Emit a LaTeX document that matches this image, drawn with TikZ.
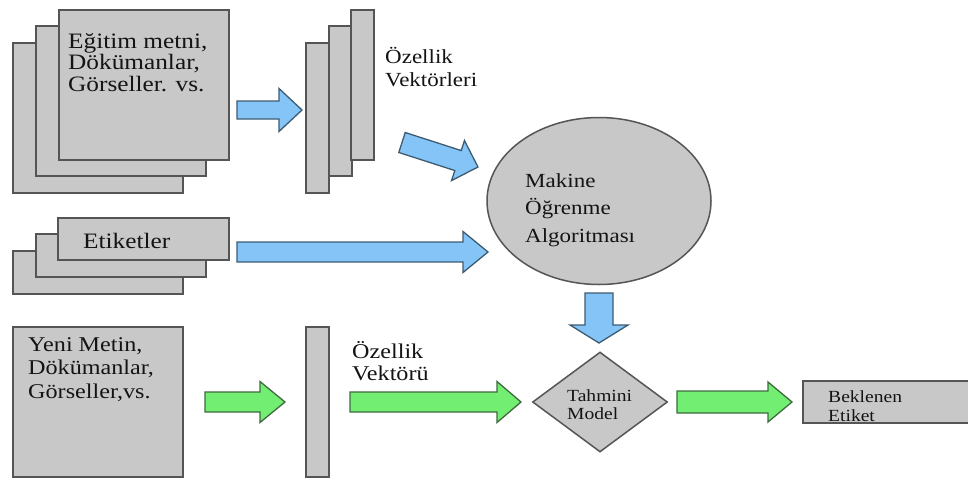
\documentclass[tikz,border=0pt]{standalone}
\usepackage{fontspec}
\setmainfont{Liberation Serif}
\newfontfamily\wideserif[FakeStretch=1.15]{Liberation Serif}
\usetikzlibrary{calc,shapes.geometric}
\definecolor{boxgray}{HTML}{C8C8C8}
\definecolor{boxedge}{HTML}{555555}
\definecolor{arrblue}{HTML}{84C4F6}
\definecolor{blueedge}{HTML}{3D5C72}
\definecolor{arrgreen}{HTML}{72EE72}
\definecolor{greenedge}{HTML}{3F6B3F}
\definecolor{txt}{HTML}{141414}
% block arrow: style, start, tip, shaft half width, head half width, head length
\newcommand\blockarrow[6]{%
  \coordinate (ba-c) at ($(#3)!#6!(#2)$);
  \filldraw[#1] ($(#2)!#4!90:(#3)$) -- ($(ba-c)!#4!90:(#3)$) -- ($(ba-c)!#5!90:(#3)$)
    -- (#3) -- ($(ba-c)!#5!-90:(#3)$) -- ($(ba-c)!#4!-90:(#3)$) -- ($(#2)!#4!-90:(#3)$) -- cycle;}
\begin{document}
\begin{tikzpicture}[x=1pt,y=-1pt,
  box/.style={draw=boxedge, fill=boxgray, line width=1.5pt, rectangle, inner sep=0pt, anchor=north west},
  lbl/.style={anchor=north west, inner sep=0pt, align=left, text=txt},
  bluearrow/.style={draw=blueedge, fill=arrblue, line width=1.3pt},
  greenarrow/.style={draw=greenedge, fill=arrgreen, line width=1.3pt}]
\useasboundingbox (0,0) rectangle (968,477);
\clip (0,0) rectangle (968,477);
\fill[white] (0,0) rectangle (968,477);

% training documents
\node[box, minimum width=170pt, minimum height=150pt] (doc3) at (12,42) {};
\node[box, minimum width=170pt, minimum height=150pt] (doc2) at (35,25) {};
\node[box, minimum width=170pt, minimum height=150pt] (doc1) at (58,9) {};
\node[lbl, font=\wideserif\fontsize{22}{21.5}\selectfont] (doctext) at (68,33) {Eğitim metni,\\Dökümanlar,\\Görseller. vs.};

% feature vectors
\node[box, minimum width=23pt, minimum height=150pt] (fv3) at (305,42) {};
\node[box, minimum width=23pt, minimum height=150pt] (fv2) at (328,25) {};
\node[box, minimum width=23pt, minimum height=150pt] (fv1) at (350,9) {};
\node[lbl, font=\wideserif\fontsize{20}{23}\selectfont] (fvtext) at (385,47) {Özellik\\Vektörleri};

% labels
\node[box, minimum width=170pt, minimum height=43pt] (lab3) at (12,250) {};
\node[box, minimum width=170pt, minimum height=43pt] (lab2) at (35,233) {};
\node[box, minimum width=171pt, minimum height=42pt] (lab1) at (57,217) {};
\node[anchor=base west, inner sep=0pt, text=txt, font=\wideserif\fontsize{22}{22}\selectfont] (labtext) at (83,248) {Etiketler};

% machine learning algorithm
\node[ellipse, draw=boxedge, fill=boxgray, line width=1.5pt, minimum width=224pt, minimum height=167pt, inner sep=0pt] (ml) at (599,201) {};
\node[lbl, font=\wideserif\fontsize{20}{27.5}\selectfont] (mltext) at (525,173) {Makine\\Öğrenme\\Algoritması};

% new data
\node[box, minimum width=170pt, minimum height=150pt] (newdoc) at (12,326) {};
\node[lbl, font=\wideserif\fontsize{21}{23.5}\selectfont] (newtext) at (28,337) {Yeni Metin,\\Dökümanlar,\\Görseller,vs.};
\node[box, minimum width=23pt, minimum height=150pt] (fvnew) at (305,326) {};
\node[lbl, font=\wideserif\fontsize{21}{22}\selectfont] (fvnewtext) at (352,341) {Özellik\\Vektörü};

% predictive model
\node[diamond, draw=boxedge, fill=boxgray, line width=1.5pt, minimum width=135pt, minimum height=100pt, inner sep=0pt] (model) at (600,402) {};
\node[lbl, font=\wideserif\fontsize{17}{18}\selectfont] (modeltext) at (567,389) {Tahmini\\Model};

% expected label
\node[box, minimum width=180pt, minimum height=42pt] (out) at (802,380) {};
\node[lbl, font=\wideserif\fontsize{17}{19}\selectfont] (outtext) at (828,390) {Beklenen\\Etiket};

% arrows
\coordinate (a1s) at (237,110); \coordinate (a1e) at (302,110);
\coordinate (a2s) at (402,142.5); \coordinate (a2e) at (478,167);
\coordinate (a3s) at (237,252); \coordinate (a3e) at (488,252);
\coordinate (a4s) at (599,293); \coordinate (a4e) at (599,343);
\coordinate (g1s) at (205,402); \coordinate (g1e) at (285,402);
\coordinate (g2s) at (350,402); \coordinate (g2e) at (521,402);
\coordinate (g3s) at (677,402); \coordinate (g3e) at (792,402);
\blockarrow{bluearrow}{a1s}{a1e}{9pt}{21.5pt}{23pt}
\blockarrow{bluearrow}{a2s}{a2e}{10.5pt}{21pt}{21pt}
\blockarrow{bluearrow}{a3s}{a3e}{10pt}{20.5pt}{25pt}
\blockarrow{bluearrow}{a4s}{a4e}{14pt}{29pt}{18pt}
\blockarrow{greenarrow}{g1s}{g1e}{10pt}{20.5pt}{25pt}
\blockarrow{greenarrow}{g2s}{g2e}{10pt}{20.5pt}{24pt}
\blockarrow{greenarrow}{g3s}{g3e}{11pt}{20pt}{24pt}
\end{tikzpicture}
\end{document}
